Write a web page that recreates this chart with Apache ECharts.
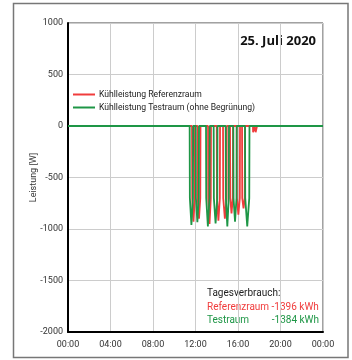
<!DOCTYPE html>
<html><head><meta charset="utf-8">
<script src="https://cdn.jsdelivr.net/npm/echarts@6/dist/echarts.min.js"></script>
<style>html,body{margin:0;padding:0;background:#fff}#c{width:352px;height:360px}</style>
</head><body><div id="c"></div>
<script>
// x labels
const xTickLabels = ['00:00','04:00','08:00','12:00','16:00','20:00','00:00'];
// Referenzraum pulses (hours start/end, minimum W)
const refStart = [11.67, 12.19, 13.18, 14.00, 14.59, 15.25, 15.88, 16.38, 17.41, 17.65];
const refEnd   = [11.95, 12.47, 13.46, 14.31, 14.94, 15.53, 16.19, 16.66, 17.55, 17.79];
const refMin   = [-930, -900, -950, -920, -900, -850, -860, -800, -60, -60];
// Testraum pulses
const testStart = [11.45, 12.02, 12.99, 13.71, 14.84, 15.56, 16.66];
const testEnd   = [11.78, 12.33, 13.34, 14.07, 15.15, 15.88, 17.08];
const testMin   = [-960, -935, -975, -945, -975, -930, -975];
const knee = -700;

function build(starts, ends, mins) {
  const d = [[0, 0]];
  for (let i = 0; i < starts.length; i++) {
    const s = starts[i], e = ends[i], m = mins[i];
    const mid = (s + e) / 2;
    d.push([s, 0]);
    if (m < knee) {
      d.push([s + 0.02, knee]);
      d.push([mid, m]);
      d.push([e - 0.02, knee]);
    } else {
      d.push([s + 0.01, m]);
      d.push([e - 0.01, m]);
    }
    d.push([e, 0]);
  }
  d.push([24, 0]);
  return d;
}

const font = 'Roboto';
const chart = echarts.init(document.getElementById('c'), null, {renderer: 'canvas'});
chart.setOption({
  animation: false,
  textStyle: {fontFamily: font},
  grid: {left: 68, right: 29, top: 23, bottom: 28, show: true, borderColor: '#444', borderWidth: 1},
  graphic: [
    {type: 'rect', shape: {x: 13.5, y: 3.5, width: 334.5, height: 354}, style: {fill: 'none', stroke: '#777', lineWidth: 1.5}, z: -1},
    {type: 'text', right: 36, top: 35, style: {text: '25. Juli 2020', font: 'bold 13px "Open Sans"', fill: '#111'}},
    {type: 'text', left: 207, top: 288, style: {text: 'Tagesverbrauch:', font: '10px Roboto', fill: '#222'}},
    {type: 'text', left: 207, top: 302, style: {text: 'Referenzraum -1396 kWh', font: '10px Roboto', fill: '#f03c3c'}},
    {type: 'text', left: 207, top: 315.5, style: {text: 'Testraum', font: '10px Roboto', fill: '#1e9646'}},
    {type: 'text', right: 33, top: 315.5, style: {text: '-1384 kWh', font: '10px Roboto', fill: '#1e9646', align: 'right'}}
  ],
  legend: {
    orient: 'vertical', left: 68, top: 85, itemWidth: 22, itemHeight: 2, itemGap: 4,
    icon: 'rect',
    textStyle: {fontFamily: font, fontSize: 8.6, color: '#222', padding: [0, 0, 0, -1]},
    data: ['Kühlleistung Referenzraum', 'Kühlleistung Testraum (ohne Begrünung)']
  },
  xAxis: {
    type: 'value', min: 0, max: 24, interval: 4,
    axisLine: {show: true, onZero: false, lineStyle: {color: '#000', width: 2}},
    axisTick: {show: false},
    splitLine: {lineStyle: {color: '#ccc', width: 1}},
    axisLabel: {fontFamily: font, fontSize: 9, color: '#333', margin: 8,
      formatter: (v) => xTickLabels[Math.round(v / 4)]}
  },
  yAxis: {
    type: 'value', min: -2000, max: 1000, interval: 500,
    name: 'Leistung [W]', nameLocation: 'middle', nameGap: 30, nameMoveOverlap: false,
    nameTextStyle: {fontFamily: font, fontSize: 9, color: '#333'},
    axisLine: {show: true, lineStyle: {color: '#000', width: 2}},
    axisTick: {show: false},
    splitLine: {lineStyle: {color: '#ccc', width: 1}},
    axisLabel: {fontFamily: font, fontSize: 9, color: '#333', margin: 5, formatter: (v) => String(v)}
  },
  series: [
    {name: 'Kühlleistung Referenzraum', type: 'line', showSymbol: false, symbol: 'none',
     lineStyle: {color: '#f03c3c', width: 1.8}, itemStyle: {color: '#f03c3c'},
     data: build(refStart, refEnd, refMin)},
    {name: 'Kühlleistung Testraum (ohne Begrünung)', type: 'line', showSymbol: false, symbol: 'none',
     lineStyle: {color: '#1e9646', width: 1.8}, itemStyle: {color: '#1e9646'},
     data: build(testStart, testEnd, testMin)}
  ]
});
</script></body></html>
